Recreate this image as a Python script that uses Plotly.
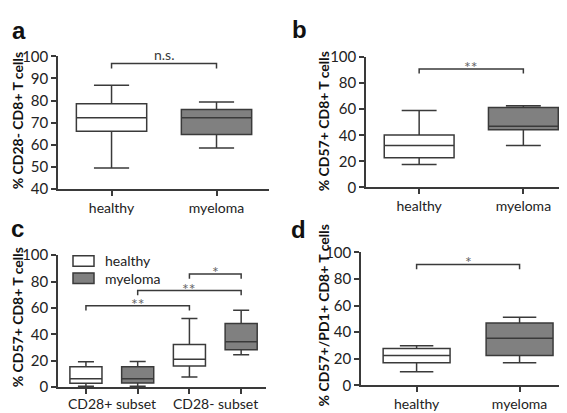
import plotly.graph_objects as go

W, H = 567, 413

# ---------------- data ----------------
groups = ["healthy", "myeloma"]

# panel a: % CD28- CD8+ T cells
a_q1 = [66.2, 64.7]
a_med = [72.2, 72.2]
a_q3 = [78.6, 76.0]
a_lo = [49.6, 58.6]
a_hi = [86.9, 79.3]

# panel b: % CD57+ CD8+ T cells
b_q1 = [22.8, 44.3]
b_med = [32.1, 47.0]
b_q3 = [40.2, 61.3]
b_lo = [17.6, 32.1]
b_hi = [59.0, 62.7]

# panel c: % CD57+ CD8+ T cells by subset
subsets = ["CD28+ subset", "CD28- subset"]
c_healthy_q1 = [2.9, 16.1]
c_healthy_med = [6.3, 21.2]
c_healthy_q3 = [15.4, 32.3]
c_healthy_lo = [0.7, 7.7]
c_healthy_hi = [19.3, 52.0]
c_myeloma_q1 = [3.1, 28.4]
c_myeloma_med = [6.3, 34.5]
c_myeloma_q3 = [15.4, 48.2]
c_myeloma_lo = [0.7, 24.6]
c_myeloma_hi = [19.5, 58.3]

# panel d: % CD57+/PD1+ CD8+ T cells
d_q1 = [17.0, 22.3]
d_med = [22.3, 35.3]
d_q3 = [27.6, 46.8]
d_lo = [10.1, 17.0]
d_hi = [29.7, 51.1]

# significance brackets: (box index 0, box index 1, level, label)
a_sig = [(0, 1, 96.7, "n.s.")]
b_sig = [(0, 1, 91.0, "**")]
c_sig = [(0, 2, 61.6, "**"), (1, 3, 73.2, "**"), (2, 3, 85.7, "*")]
d_sig = [(0, 1, 90.9, "*")]

# ---------------- style ----------------
LINE = "#3a3a3a"
GREY = "#808080"
FONT = "Lato"
TXT = "#222"
fills = {"healthy": "white", "myeloma": GREY}


def px_x(p):
    return p / W


def px_y(p):
    return 1 - p / H


fig = go.Figure()


def add_box(ax, name, x, q1, med, q3, lo, hi, width):
    fig.add_trace(go.Box(
        x=x, q1=q1, median=med, q3=q3, lowerfence=lo, upperfence=hi,
        name=name, fillcolor=fills[name], line=dict(color=LINE, width=1.5),
        whiskerwidth=0.5, width=width, boxpoints=False, showlegend=False,
        xaxis="x" + ax, yaxis="y" + ax, hoverinfo="skip"))


def add_sig(ax, sigs, drop, positions):
    for x0, x1, lvl, lab in sigs:
        xa, xb = positions[x0], positions[x1]
        fig.add_trace(go.Scatter(
            x=[xa, xa, xb, xb], y=[lvl - drop, lvl, lvl, lvl - drop],
            mode="lines", line=dict(color=LINE, width=1.5), showlegend=False,
            xaxis="x" + ax, yaxis="y" + ax, hoverinfo="skip"))
        star = "*" in lab
        fig.add_annotation(
            x=(xa + xb) / 2, y=lvl, xref="x" + ax, yref="y" + ax, text=lab,
            showarrow=False, yanchor="bottom", yshift=-9 if star else -1,
            font=dict(family=FONT, size=16 if star else 14,
                      color="#666" if star else LINE))


gpos = list(range(len(groups)))

# panel a
for i, g in enumerate(groups):
    add_box("", g, [gpos[i]], [a_q1[i]], [a_med[i]], [a_q3[i]], [a_lo[i]], [a_hi[i]], 0.67)
add_sig("", a_sig, 2.2, gpos)

# panel b
for i, g in enumerate(groups):
    add_box("2", g, [gpos[i]], [b_q1[i]], [b_med[i]], [b_q3[i]], [b_lo[i]], [b_hi[i]], 0.67)
add_sig("2", b_sig, 3.6, gpos)

# panel c
c_pos_h = [2 * i for i in range(len(subsets))]
c_pos_m = [2 * i + 1 for i in range(len(subsets))]
add_box("3", "healthy", c_pos_h, c_healthy_q1, c_healthy_med, c_healthy_q3,
        c_healthy_lo, c_healthy_hi, 0.62)
add_box("3", "myeloma", c_pos_m, c_myeloma_q1, c_myeloma_med, c_myeloma_q3,
        c_myeloma_lo, c_myeloma_hi, 0.62)
c_positions = sorted(c_pos_h + c_pos_m)
add_sig("3", c_sig, 3.6, c_positions)
for i, s in enumerate(subsets):
    fig.add_annotation(x=2 * i + 0.5, y=px_y(403), xref="x3", yref="paper", text=s,
                       showarrow=False, yanchor="middle",
                       font=dict(family=FONT, size=14, color=TXT))

# panel d
for i, g in enumerate(groups):
    add_box("4", g, [gpos[i]], [d_q1[i]], [d_med[i]], [d_q3[i]], [d_lo[i]], [d_hi[i]], 0.65)
add_sig("4", d_sig, 3.6, gpos)

axis_common = dict(showline=True, linecolor=LINE, linewidth=1.5, ticks="outside",
                   ticklen=5, tickwidth=1.5, tickcolor=LINE, showgrid=False,
                   zeroline=False, tickfont=dict(family=FONT, size=14, color=TXT),
                   fixedrange=True)
yfont = dict(tickfont=dict(family=FONT, size=15, color=TXT))
xcat = dict(tickvals=gpos, ticktext=groups)

fig.update_layout(
    width=W, height=H, margin=dict(l=0, r=0, t=0, b=0),
    paper_bgcolor="white", plot_bgcolor="white", showlegend=False,
    xaxis=dict(axis_common, **xcat, domain=[px_x(50), px_x(261)], range=[-0.51, 1.50],
               anchor="y"),
    yaxis=dict(axis_common, **yfont, domain=[px_y(179), px_y(40)], range=[40, 100],
               dtick=10, anchor="x"),
    xaxis2=dict(axis_common, **xcat, domain=[px_x(358), px_x(556)], range=[-0.51, 1.39],
                anchor="y2"),
    yaxis2=dict(axis_common, **yfont, domain=[px_y(177), px_y(41)], range=[0, 100],
                dtick=20, anchor="x2"),
    xaxis3=dict(axis_common, domain=[px_x(50), px_x(258)], range=[-0.54, 3.48],
                tickvals=c_positions, ticktext=[""] * len(c_positions), anchor="y3"),
    yaxis3=dict(axis_common, **yfont, domain=[px_y(386), px_y(248)], range=[0, 100],
                dtick=20, anchor="x3"),
    xaxis4=dict(axis_common, **xcat, domain=[px_x(353), px_x(561)], range=[-0.54, 1.48],
                anchor="y4"),
    yaxis4=dict(axis_common, **yfont, domain=[px_y(384), px_y(245)], range=[0, 100],
                dtick=20, anchor="x4"),
)

# y-axis titles
titles = [
    ("% CD28- CD8+ T cells", 9, 108),
    ("% CD57+ CD8+ T cells", 315, 108),
    ("% CD57+ CD8+ T cells", 9, 313),
    ("% CD57+/PD1+ CD8+ T cells", 315, 311),
]
for t, x, y in titles:
    fig.add_annotation(x=px_x(x), y=px_y(y), xref="paper", yref="paper", text="<b>%s</b>" % t,
                       textangle=-90, showarrow=False, xanchor="center", yanchor="middle",
                       font=dict(family=FONT, size=14, color="#111"))

# panel letters
letters = [("a", 11, 13), ("b", 291, 12), ("c", 9, 220), ("d", 290, 221)]
for t, x, y in letters:
    fig.add_annotation(x=px_x(x), y=px_y(y), xref="paper", yref="paper", text="<b>%s</b>" % t,
                       showarrow=False, xanchor="center", yanchor="middle",
                       font=dict(family="Liberation Sans", size=24, color="#111"))

# legend for panel c
leg = [("healthy", 254), ("myeloma", 272)]
for name, yc in leg:
    fig.add_shape(type="rect", xref="paper", yref="paper",
                  x0=px_x(65), x1=px_x(86), y0=px_y(yc + 5.5), y1=px_y(yc - 5.5),
                  fillcolor=fills[name], line=dict(color=LINE, width=1.5))
    fig.add_annotation(x=px_x(95), y=px_y(yc), xref="paper", yref="paper", text=name,
                       showarrow=False, xanchor="left", yanchor="middle",
                       font=dict(family=FONT, size=14, color=TXT))

fig.write_html("out.html")
